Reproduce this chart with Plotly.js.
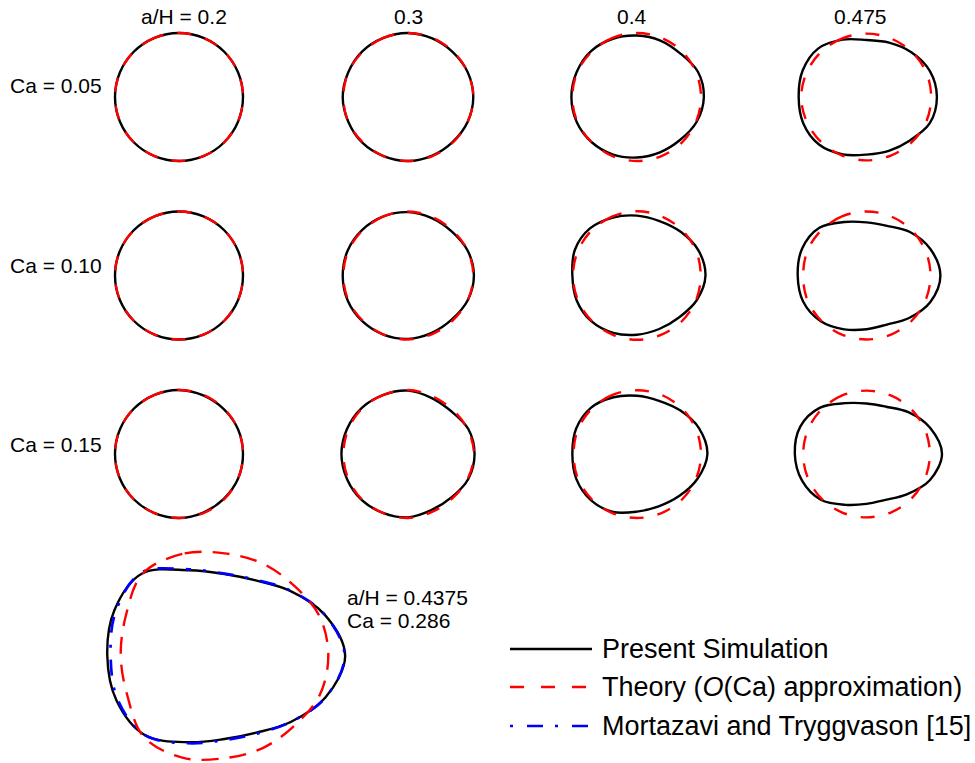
<!DOCTYPE html>
<html><head><meta charset="utf-8">
<script src="https://cdn.plot.ly/plotly-3.0.1.min.js"></script>
<style>html,body{margin:0;padding:0;background:#fff}#chart{width:975px;height:763px}</style>
</head><body><div id="chart"></div>
<script>
// polar angles (degrees, counter-clockwise from +x) at which drop radii were read
const theta = [0,22.5,45,67.5,90,112.5,135,157.5,180,202.5,225,247.5,270,292.5,315,337.5];
const aHLabels = ['a/H = 0.2','0.3','0.4','0.475'];
const caLabels = ['Ca = 0.05','Ca = 0.10','Ca = 0.15'];

// Present simulation: drop radius / undeformed radius, rows = Ca 0.05, 0.10, 0.15
const sim_a02 = [
  [1.00,1.00,1.00,1.00,1.00,1.00,1.00,1.00,1.00,1.00,1.00,1.00,1.00,1.00,1.00,1.00],
  [1.00,1.00,1.00,1.00,1.00,1.00,1.00,1.00,1.00,1.00,1.00,1.00,1.00,1.00,1.00,1.00],
  [1.00,1.00,0.99,0.99,1.00,1.00,1.00,1.00,1.00,1.00,1.00,1.00,1.00,0.99,0.99,1.00]
];
const sim_a03 = [
  [1.02,1.01,0.99,0.99,1.00,1.00,1.01,1.01,1.02,1.01,1.01,1.00,1.00,0.99,0.99,1.01],
  [1.03,1.01,0.97,0.97,0.99,1.00,1.01,1.02,1.02,1.02,1.01,1.00,0.99,0.97,0.97,1.01],
  [1.04,1.02,0.95,0.95,0.99,1.00,1.02,1.03,1.04,1.03,1.02,1.00,0.99,0.95,0.96,1.02]
];
const sim_a04 = [
  [1.045,1.03,0.96,0.955,0.96,0.985,1.015,1.02,1.025,1.02,1.00,0.975,0.945,0.935,0.95,1.01],
  [1.07,1.036,0.965,0.92,0.935,0.98,1.04,1.05,1.01,1.02,1.01,0.97,0.925,0.905,0.927,1.01],
  [1.10,1.05,0.96,0.90,0.91,0.96,1.02,1.03,1.01,1.025,1.02,0.98,0.90,0.885,0.93,1.02]
];
const sim_a0475 = [
  [1.10,1.07,0.99,0.92,0.89,0.97,1.07,1.08,1.06,1.07,1.05,0.97,0.90,0.91,0.96,1.07],
  [1.155,1.08,0.96,0.84,0.83,0.905,1.05,1.09,1.075,1.07,1.01,0.91,0.84,0.83,0.94,1.08],
  [1.18,1.075,0.925,0.80,0.79,0.86,1.025,1.12,1.12,1.09,1.01,0.86,0.78,0.775,0.89,1.07]
];
// Theory O(Ca) approximation
const th_a02 = [
  [1.00,1.00,1.00,1.00,1.00,1.00,1.00,1.00,1.00,1.00,1.00,1.00,1.00,1.00,1.00,1.00],
  [1.00,1.00,1.00,1.00,1.00,1.00,1.00,1.00,1.00,1.00,1.00,1.00,1.00,1.00,1.00,1.00],
  [1.00,1.00,1.00,1.00,1.00,1.00,1.00,1.00,1.00,1.00,1.00,1.00,1.00,1.00,1.00,1.00]
];
const th_a03 = [
  [1.02,1.01,1.00,1.00,1.00,1.00,1.00,1.01,1.01,1.01,1.00,1.00,1.00,1.00,1.00,1.01],
  [1.02,1.01,0.99,0.99,1.00,1.00,1.00,1.01,1.01,1.01,1.00,1.00,1.00,0.99,0.99,1.01],
  [1.03,1.01,0.98,0.98,1.00,1.00,1.01,1.01,1.01,1.01,1.01,1.00,1.00,0.98,0.98,1.01]
];
const th_a04 = [
  [1.00,1.00,1.00,1.00,1.00,1.00,1.00,1.01,1.01,1.01,1.00,1.00,1.00,1.00,1.00,1.00],
  [0.995,1.00,1.00,1.00,1.005,1.00,1.00,1.00,1.00,1.00,1.00,1.00,1.005,1.00,1.00,1.00],
  [1.00,1.00,1.00,1.00,0.995,1.00,1.00,1.00,0.99,1.00,1.00,1.00,1.00,1.00,1.00,1.00]
];
const th_a0475 = [
  [1.01,1.01,1.00,0.99,0.99,0.99,1.00,1.01,1.02,1.01,1.00,0.99,0.99,0.99,1.00,1.01],
  [1.00,1.00,1.00,1.00,1.00,1.00,1.00,1.00,0.99,1.00,1.00,1.00,1.00,1.00,1.00,1.00],
  [0.99,0.99,0.99,0.99,0.99,0.99,0.99,0.99,0.99,0.99,0.99,0.99,0.99,0.99,0.99,0.99]
];
// comparison case a/H = 0.4375, Ca = 0.286
const big_sim = [1.16,1.04,0.886,0.785,0.787,0.89,1.12,1.146,1.127,1.124,1.08,0.90,0.80,0.80,0.90,1.05];
const big_mt  = [1.155,1.04,0.89,0.79,0.79,0.90,1.13,1.13,1.095,1.11,1.08,0.91,0.81,0.81,0.90,1.05];
const big_th  = [0.998,0.99,0.95,0.96,0.985,1.06,1.115,1.025,0.998,1.01,1.10,1.06,0.985,0.96,0.95,0.99];

const simCols = [sim_a02, sim_a03, sim_a04, sim_a0475];
const thCols = [th_a02, th_a03, th_a04, th_a0475];

// ---- layout constants (pixels) ----
const W = 975, HT = 763;
const colX = [179, 408, 637, 866.5];
const rowY = [97, 275.5, 454];
const smallPx = 64, smallHalf = 80;
const bigCx = 224.5, bigCy = 655.8, bigPx = 104, bigHalf = 140;
const FONT = 'Liberation Sans, Arial, Helvetica, sans-serif';

// loop starts at the top (index 4, 90 deg) so the spline closure falls on a flat part
function closeLoop(r){
  const k = 4, rr = [], tt = [];
  for (let i = 0; i <= r.length; i++){
    const j = (k + i) % r.length;
    rr.push(r[j]);
    tt.push(theta[j] + (k + i >= r.length ? 360 : 0));
  }
  return {r: rr, t: tt};
}

const traces = [];
const layout = {
  width: W, height: HT, margin:{l:0,r:0,t:0,b:0},
  paper_bgcolor:'#fff', plot_bgcolor:'rgba(0,0,0,0)', showlegend:false,
  annotations:[], shapes:[]
};

function polarCfg(cx, cy, half, R){
  return {
    domain:{x:[(cx-half)/W,(cx+half)/W], y:[1-(cy+half)/HT, 1-(cy-half)/HT]},
    bgcolor:'rgba(0,0,0,0)',
    radialaxis:{visible:false, range:[0,R], showgrid:false, showline:false, showticklabels:false, ticks:''},
    angularaxis:{visible:false, showgrid:false, showline:false, showticklabels:false, ticks:''}
  };
}

const simLine = {color:'#000', width:2.4, shape:'spline'};
const thLine = {color:'#ff0000', width:2.4, dash:'14px,14px', shape:'spline'};

let n = 0;
for (let r = 0; r < 3; r++){
  for (let c = 0; c < 4; c++){
    n++;
    const id = n === 1 ? 'polar' : 'polar' + n;
    layout[id] = polarCfg(colX[c], rowY[r], smallHalf, smallHalf/smallPx);
    const s = closeLoop(simCols[c][r]);
    const t = closeLoop(thCols[c][r]);
    traces.push({type:'scatterpolar', mode:'lines', r:s.r, theta:s.t, subplot:id, line:simLine, cliponaxis:false, hoverinfo:'skip'});
    traces.push({type:'scatterpolar', mode:'lines', r:t.r, theta:t.t, subplot:id, line:thLine, cliponaxis:false, hoverinfo:'skip'});
  }
}

// big comparison panel on a cartesian pair (x = r cos, y = r sin)
layout.xaxis = {domain:[(bigCx-bigHalf)/W,(bigCx+bigHalf)/W], range:[-bigHalf/bigPx, bigHalf/bigPx], visible:false, fixedrange:true};
layout.yaxis = {domain:[0, 1-(bigCy-bigHalf)/HT], range:[-(HT-bigCy)/bigPx, bigHalf/bigPx], visible:false, fixedrange:true};
function toXY(r){
  const p = closeLoop(r);
  return {x: p.r.map((v,i)=>v*Math.cos(p.t[i]*Math.PI/180)), y: p.r.map((v,i)=>v*Math.sin(p.t[i]*Math.PI/180))};
}
{
  const s = toXY(big_sim), m = toXY(big_mt), t = toXY(big_th);
  traces.push({type:'scatter', mode:'lines', x:s.x, y:s.y, line:{color:'#000', width:2.4, shape:'spline'}, cliponaxis:false, hoverinfo:'skip'});
  traces.push({type:'scatter', mode:'lines', x:m.x, y:m.y, line:{color:'#0000ff', width:2.7, dash:'3px,12px,16px,12px', shape:'spline'}, cliponaxis:false, hoverinfo:'skip'});
  traces.push({type:'scatter', mode:'lines', x:t.x, y:t.y, line:{color:'#ff0000', width:2.4, dash:'17px,11px', shape:'spline'}, cliponaxis:false, hoverinfo:'skip'});
}

function ann(text, px, py, size, xanchor){
  layout.annotations.push({text:text, xref:'paper', yref:'paper', x:px/W, y:1-py/HT,
    xanchor:xanchor||'center', yanchor:'middle', showarrow:false,
    font:{family:FONT, size:size, color:'#000'}});
}
// column headers
const headX = [184, 408, 632, 860];
aHLabels.forEach((s,i)=>ann(s, headX[i], 17, 21));
// row labels
const rowLabY = [85, 265.5, 445];
caLabels.forEach((s,i)=>ann(s, 104, rowLabY[i], 21, 'right'));
// big case labels
ann('a/H = 0.4375', 345, 597, 21, 'left');
ann('Ca = 0.286', 345, 620, 21, 'left');

// legend
const legNames = ['Present Simulation','Theory (<i>O</i>(Ca) approximation)','Mortazavi and Tryggvason [15]'];
const legY = [649, 687, 726];
const legLines = [
  {color:'#000', width:2.4},
  {color:'#ff0000', width:2.4, dash:'14px,17px'},
  {color:'#0000ff', width:2.7, dash:'3px,14px,16px,12px'}
];
legNames.forEach((s,i)=>{
  layout.shapes.push({type:'line', xref:'paper', yref:'paper', x0:510/W, x1:592/W, y0:1-legY[i]/HT, y1:1-legY[i]/HT, line:legLines[i]});
  ann(s, 600, legY[i], 27, 'left');
});

Plotly.newPlot('chart', traces, layout, {staticPlot:true, displayModeBar:false});
</script></body></html>
